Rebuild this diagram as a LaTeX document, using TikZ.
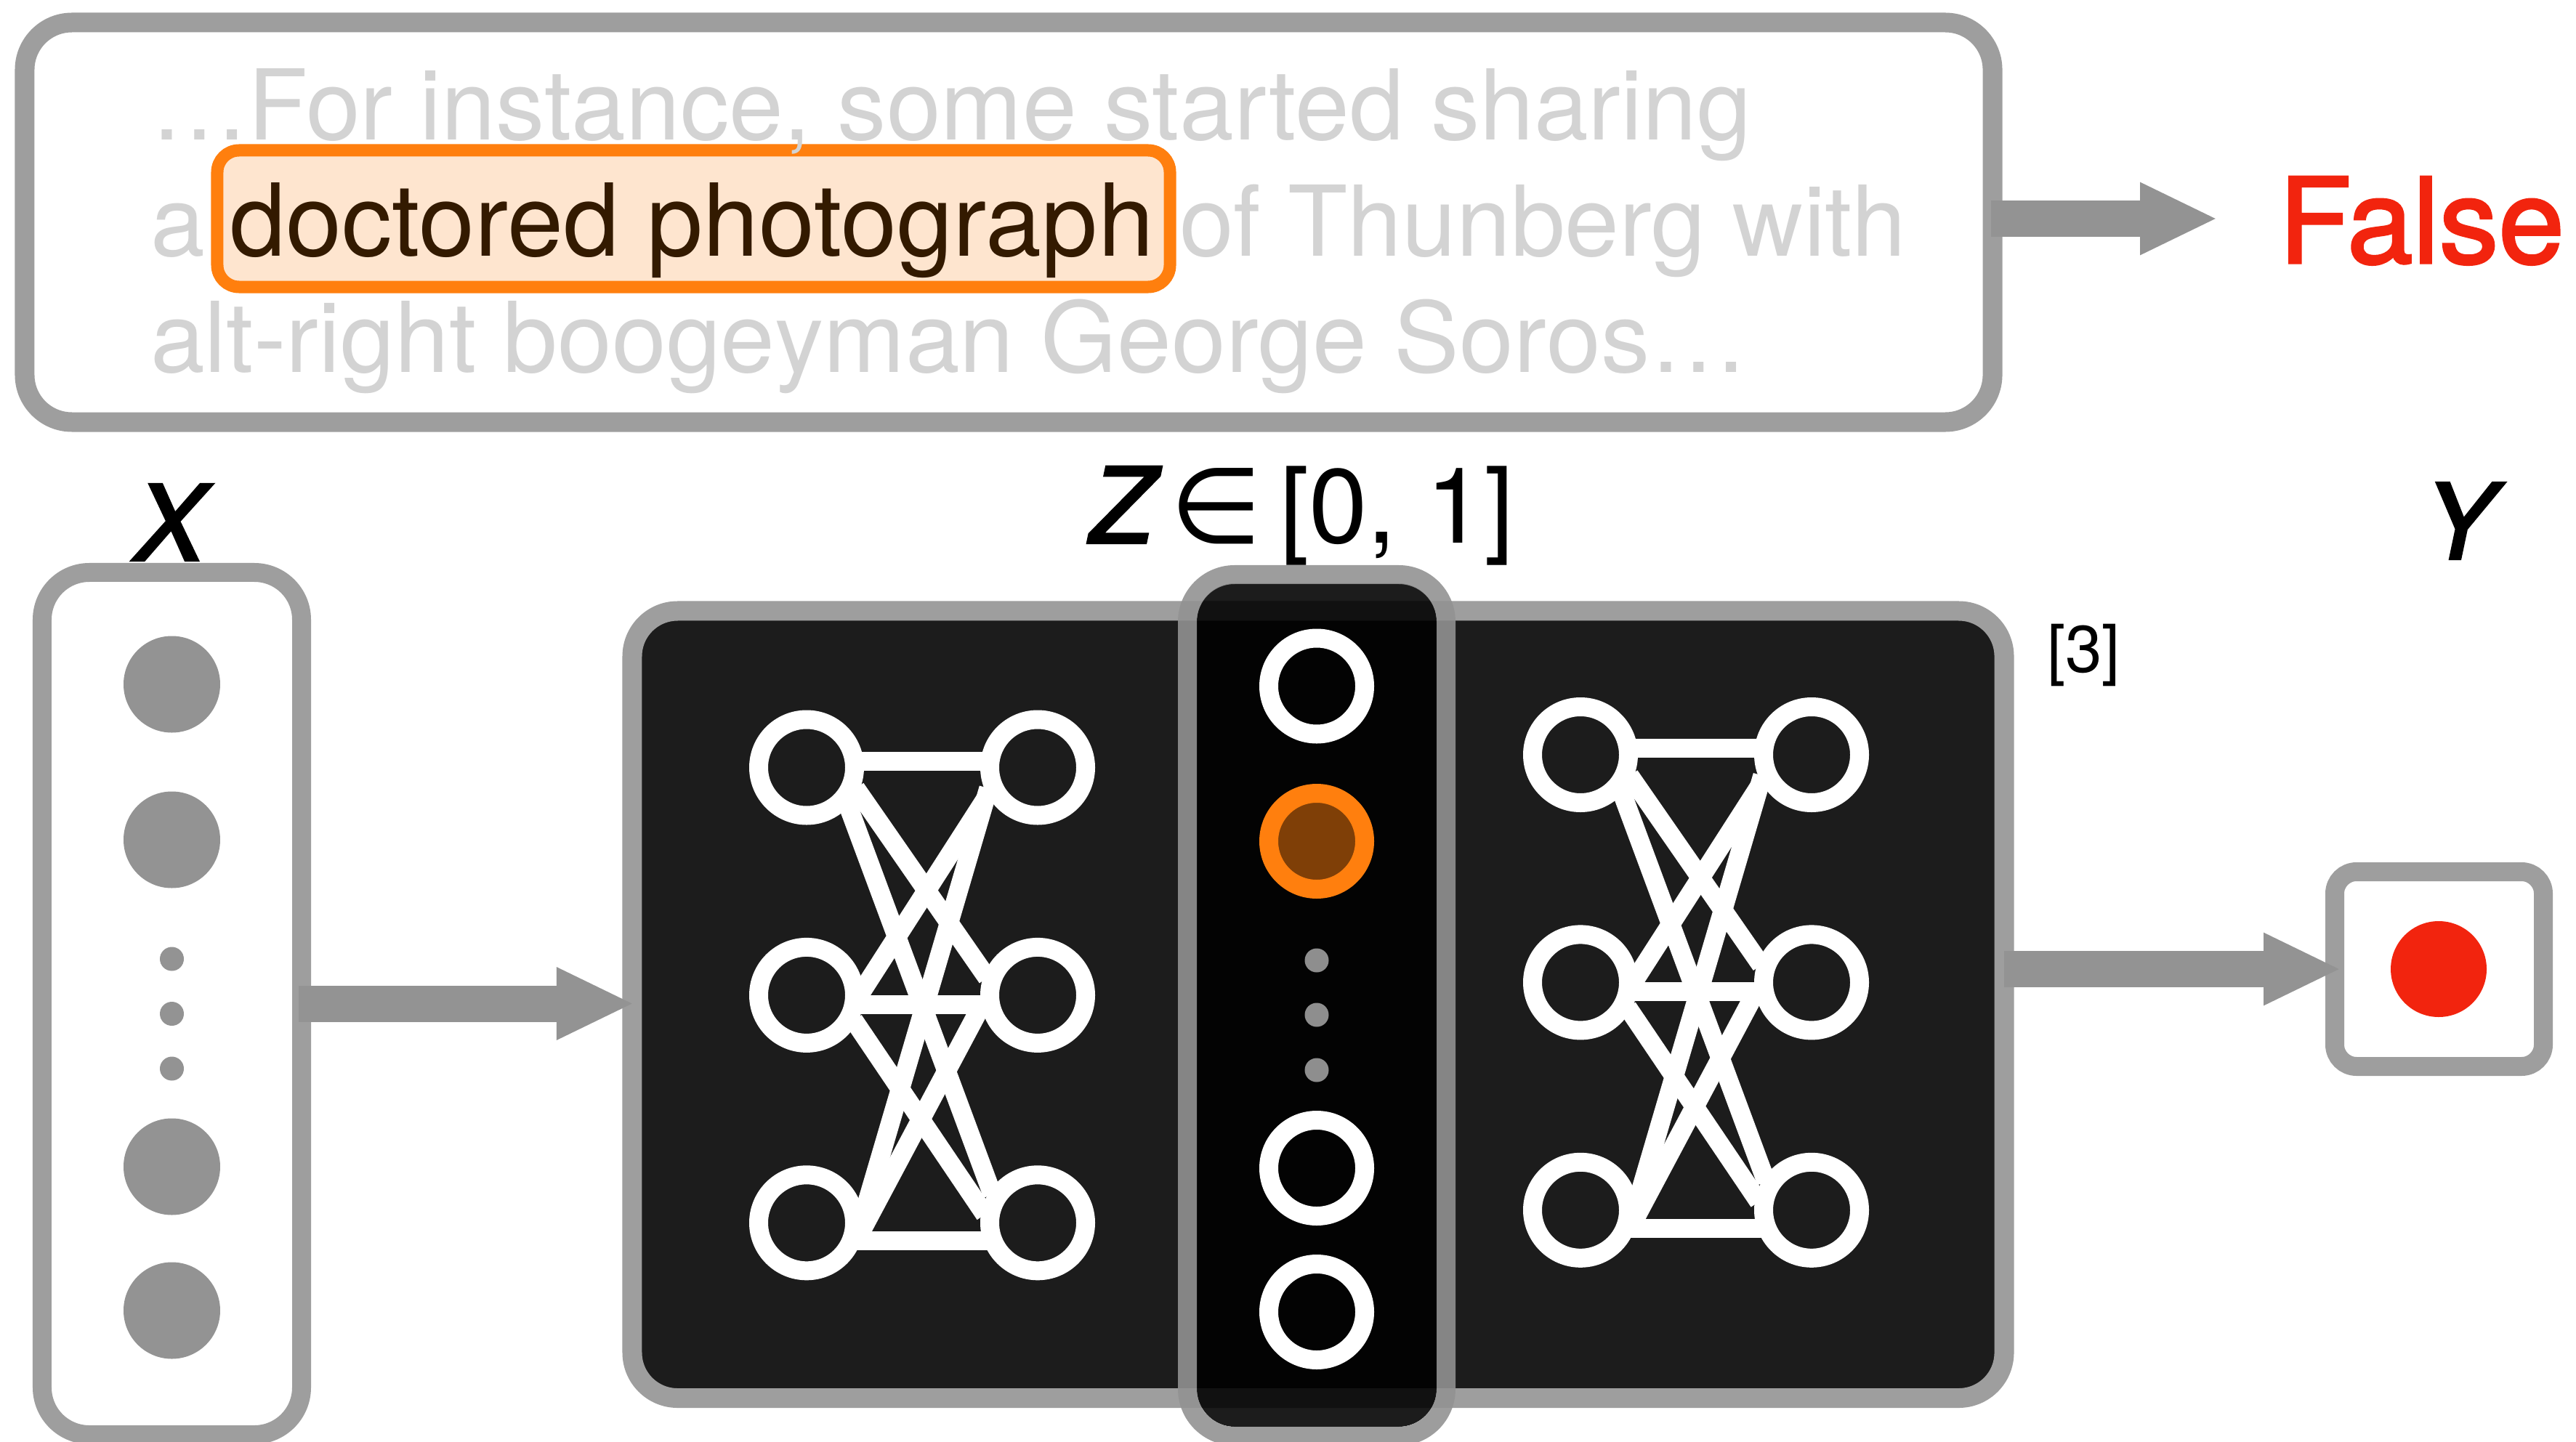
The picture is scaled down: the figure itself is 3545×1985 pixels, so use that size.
\documentclass[tikz,border=0pt]{standalone}
\usepackage{fontspec}
\usetikzlibrary{arrows.meta}
\setmainfont{TeX Gyre Heros}
\newfontfamily\heavyfont{TeX Gyre Heros}[FakeBold=2]
\newfontfamily\heavyslant{TeX Gyre Heros}[FakeBold=2.8,FakeSlant=0.21]
\newfontfamily\plainkern{TeX Gyre Heros}[Kerning=Off]
\newfontfamily\symfont{DejaVu Sans}
\newcommand\fsz[1]{\fontsize{#1}{#1}\selectfont}
\definecolor{framegray}{HTML}{9E9E9E}
\definecolor{flowgray}{HTML}{939393}
\definecolor{softtext}{HTML}{D3D3D3}
\definecolor{darkfill}{HTML}{1C1C1C}
\definecolor{accent}{HTML}{FF7F0E}
\definecolor{accentfill}{HTML}{FEE5CF}
\definecolor{accentdark}{HTML}{7F3F07}
\definecolor{inktext}{HTML}{331A00}
\definecolor{alert}{HTML}{F2240E}
\definecolor{zframe}{HTML}{929292}
\definecolor{zdot}{HTML}{8E8E8E}
\tikzset{
  panel/.style={rectangle,inner sep=0pt,outer sep=0pt,draw=framegray,line width=5.4pt,fill=white},
  txt/.style={inner sep=0pt,outer sep=0pt,anchor=base west},
  softline/.style={txt,text=softtext,font=\fsz{26.9}},
  ring/.style={circle,inner sep=0pt,outer sep=1.5pt,minimum size=26.4pt,draw=white,line width=5.2pt},
  bigdot/.style={circle,inner sep=0pt,outer sep=0pt,minimum size=26.6pt,fill=flowgray},
  smalldot/.style={circle,inner sep=0pt,outer sep=0pt,minimum size=6.6pt,fill=flowgray},
  netedge/.style={draw=white,line width=5.2pt},
  flow/.style={draw=flowgray,line width=10pt,-{Triangle[length=21.4pt,width=18.4pt]}}
}
\newcommand\netblock[3]{%
  \node[ring] (#1tl) at (#2,#3) {};
  \node[ring] (#1tr) at (#2+318,#3) {};
  \node[ring] (#1ml) at (#2,#3+313.4) {};
  \node[ring] (#1mr) at (#2+318,#3+313.4) {};
  \node[ring] (#1bl) at (#2,#3+626.8) {};
  \node[ring] (#1br) at (#2+318,#3+626.8) {};
  \draw[netedge] (#1tl.7) -- (#1tr.173);
  \draw[netedge] (#1tl.-23) -- (#1mr.161);
  \draw[netedge] (#1tl.-41) -- (#1br.148);
  \draw[netedge] (#1ml.1) -- (#1tr.207);
  \draw[netedge] (#1ml.-10) -- (#1mr.190);
  \draw[netedge] (#1ml.-28) -- (#1br.171);
  \draw[netedge] (#1bl.-4) -- (#1tr.203);
  \draw[netedge] (#1bl.-16) -- (#1mr.185);
  \draw[netedge] (#1bl.-20) -- (#1br.200);
}
\begin{document}
\begin{tikzpicture}[x=0.2pt,y=-0.2pt]
\clip (0,0) rectangle (3545,1985);
\fill[white] (0,0) rectangle (3545,1985);
% sentence panel
\node[panel,rounded corners=13pt,minimum width=541.6pt,minimum height=110pt] (sentence) at (1388,306) {};
\node[rectangle,inner sep=0pt,outer sep=0pt,rounded corners=6pt,draw=accent,fill=accentfill,line width=3.4pt,minimum width=262.2pt,minimum height=37.6pt] (highlight) at (954.5,301) {};
\node[softline] (lineone) at (207,193) {…For instance, some started sharing};
\node[softline] (linetwoa) at (207,352) {a};
\node[txt,text=inktext,font=\fsz{27.7}] (doctored) at (316,352) {doctored photograph};
\node[softline] (linetwob) at (1623,352) {of Thunberg with};
\node[softline,font=\plainkern\fsz{26.9}] (linethree) at (207,513) {alt-right boogeyman George Soros…};
\node[txt,text=alert,font=\heavyfont\fsz{32.6}] (falselabel) at (3136,362) {False};
\coordinate (falsein) at (3052,301);
\draw[flow] ([xshift=-0.4pt]sentence.east |- falsein) -- (falsein);
% labels
\node[txt,font=\heavyslant\fsz{28.6}] (xlabel) at (179,771) {X};
\node[txt,font=\heavyslant\fsz{28.6}] (zlabel) at (1493,747) {Z};
\node[txt,font=\symfont\fsz{29}] (inlabel) at (1610,747) {∈};
\node[txt,font=\fsz{29}] (rangelabel) at (1761,747) {[0, 1]};
\node[txt,font=\heavyslant\fsz{28.6}] (ylabel) at (3330,769) {Y};
\node[txt,font=\fsz{18.2}] (ref) at (2817,925.5) {[3]};
% X column
\node[panel,line width=5.2pt,rounded corners=13pt,minimum width=71.4pt,minimum height=237.4pt] (xcol) at (236.5,1381.5) {};
\node[bigdot] (xa) at (236.5,942) {};
\node[bigdot] (xb) at (236.5,1156) {};
\node[smalldot] (xc) at (236.5,1320) {};
\node[smalldot] (xd) at (236.5,1395.5) {};
\node[smalldot] (xe) at (236.5,1471) {};
\node[bigdot] (xf) at (236.5,1606) {};
\node[bigdot] (xg) at (236.5,1804) {};
% dark model
\node[panel,rounded corners=12.5pt,fill=darkfill,minimum width=377.6pt,minimum height=216.7pt] (model) at (1814,1382.75) {};
% Z column overlay
\node[rectangle,inner sep=0pt,outer sep=0pt,rounded corners=10.5pt,fill=black,fill opacity=0.89,minimum width=66pt,minimum height=232.2pt] (zfill) at (1812,1383.5) {};
\node[rectangle,inner sep=0pt,outer sep=0pt,rounded corners=13pt,draw=zframe,draw opacity=0.89,line width=5.2pt,minimum width=71.2pt,minimum height=237.2pt] (zcol) at (1812,1384) {};
\node[ring] (za) at (1812,944.5) {};
\node[ring,draw=accent,fill=accentdark] (zb) at (1812,1158) {};
\node[smalldot,fill=zdot] (zc) at (1812,1322) {};
\node[smalldot,fill=zdot] (zd) at (1812,1397) {};
\node[smalldot,fill=zdot] (ze) at (1812,1473) {};
\node[ring] (zf) at (1812,1608) {};
\node[ring] (zg) at (1812,1806) {};
\netblock{p}{1110}{1056.5}
\netblock{q}{2175}{1039}
% Y column
\node[panel,line width=5.2pt,rounded corners=6pt,minimum width=57.4pt,minimum height=53.6pt] (ycol) at (3356.5,1334) {};
\node[circle,inner sep=0pt,outer sep=0pt,minimum size=26.4pt,fill=alert] (ydot) at (3356,1334) {};
% flows
\draw[flow] ([xshift=-0.8pt]xcol.east) -- ([xshift=0.6pt]xcol.east -| model.west);
\draw[flow] (model.east |- ycol.west) -- ([xshift=1.8pt]ycol.west);
\end{tikzpicture}
\end{document}
